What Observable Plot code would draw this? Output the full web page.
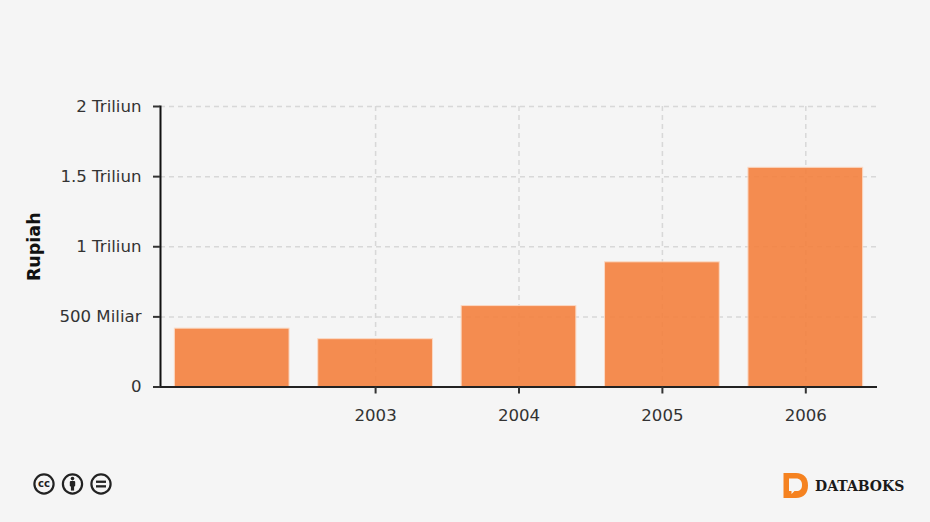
<!DOCTYPE html>
<html>
<head>
<meta charset="utf-8">
<script src="https://cdn.jsdelivr.net/npm/d3@7"></script>
<script src="https://cdn.jsdelivr.net/npm/@observablehq/plot@0.6"></script>
<style>
html,body{margin:0;padding:0;background:#f5f5f5;}
#wrap{position:relative;width:930px;height:522px;overflow:hidden;}
#chart svg{display:block;}
.foot{position:absolute;}
</style>
</head>
<body>
<div id="wrap">
<div id="chart"></div>
<svg class="foot" style="left:30px;top:470px" width="86" height="28" viewBox="0 0 86 28">
  <g fill="none" stroke="#222" stroke-width="2.2">
    <circle cx="14" cy="14" r="9.6"/><circle cx="42.5" cy="14" r="9.6"/><circle cx="71" cy="14" r="9.6"/>
  </g>
  <text x="14" y="17.4" text-anchor="middle" font-family="DejaVu Sans" font-weight="bold" font-size="10" fill="#222">cc</text>
  <g fill="#222">
    <circle cx="42.5" cy="8.6" r="1.8"/>
    <rect x="39.8" y="11" width="5.4" height="5.6" rx="1"/>
    <rect x="40.9" y="15" width="3.2" height="5.6"/>
    <rect x="66" y="10.6" width="10" height="2.3"/>
    <rect x="66" y="15.2" width="10" height="2.3"/>
  </g>
</svg>
<svg class="foot" style="left:780px;top:470px" width="36" height="30" viewBox="0 0 36 30">
  <path d="M3.5 3 H16 C24 3 28 8 28 15.5 C28 23 24 28 16 28 H3.5 Z" fill="#f58220"/>
  <path d="M9 8.5 H16 C20 8.5 22 11 22 15 C22 19 20 21 16.5 21 H14.5 L11.5 24 V21 H9 Z" fill="#f5f5f5"/>
</svg>
<div class="foot" style="left:815px;top:477.5px;font:bold 14px 'DejaVu Serif';color:#1a1a1a;">DATABOKS</div>
</div>
<script>
const years = ["2002", "2003", "2004", "2005", "2006"];
const values = [416e9, 341e9, 577e9, 889e9, 1563e9];
const xTicks = ["2003", "2004", "2005", "2006"];
const yTicks = [0, 5e11, 1e12, 1.5e12, 2e12];
const yLabels = ["0", "500 Miliar", "1 Triliun", "1.5 Triliun", "2 Triliun"];
const rows = years.map((year, i) => ({year, value: values[i]}));
const gridStyle = {stroke: "#d8d8d8", strokeOpacity: 1, strokeWidth: 1.5, strokeDasharray: "5,4"};

const plot = Plot.plot({
  width: 930,
  height: 522,
  marginLeft: 160,
  marginRight: 53,
  marginTop: 106,
  marginBottom: 135.5,
  style: {background: "#f5f5f5", fontFamily: "'DejaVu Sans'", fontSize: "16.6px", color: "#333"},
  x: {domain: years, paddingInner: 0.2, paddingOuter: 0.1, align: 0.5, round: false, label: null},
  y: {domain: [0, 2e12], label: null},
  marks: [
    Plot.gridY(yTicks, gridStyle),
    Plot.gridX(xTicks, gridStyle),
    Plot.barY(rows, {x: "year", y: "value", fill: "#f47f3c", fillOpacity: 0.89, stroke: "#fbd9c4", strokeWidth: 1}),
    Plot.frame({anchor: "left", stroke: "#111", strokeWidth: 2}),
    Plot.ruleY([0], {stroke: "#222", strokeWidth: 2}),
    Plot.axisY({ticks: yTicks, tickFormat: d => yLabels[yTicks.indexOf(d)], tickSize: 7, tickPadding: 12, stroke: "#333", strokeWidth: 2, label: null, fill: "#333"}),
    Plot.axisX({ticks: xTicks, tickSize: 7, tickPadding: 15, stroke: "#333", strokeWidth: 2, label: null, fill: "#333"}),
    Plot.text(["Rupiah"], {frameAnchor: "left", textAnchor: "middle", rotate: -90, dx: -126, fontWeight: "bold", fontSize: 17.5, fill: "#111"})
  ]
});
document.getElementById("chart").appendChild(plot);
</script>
</body>
</html>
